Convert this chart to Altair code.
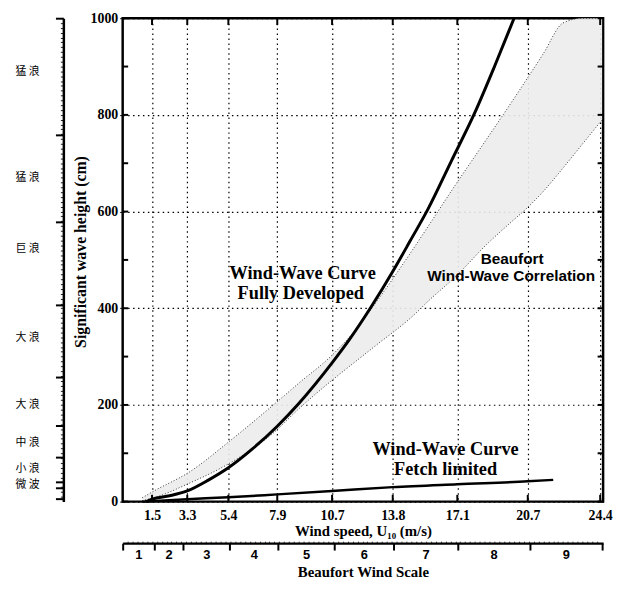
import altair as alt
import pandas as pd

# ---------------- data ----------------
XMAX = 24.55
speed_grid = [1.5, 3.3, 5.4, 7.9, 10.7, 13.8, 17.1, 20.7, 24.4]
height_labels = [0, 200, 400, 600, 800, 1000]
height_minor = [0, 100, 200, 300, 400, 500, 600, 700, 800, 900, 1000]

# Beaufort wind-wave correlation band
band_speed = [1.0, 1.6, 3.4, 5.4, 7.7, 9.0, 10.7, 12.0, 13.0, 14.8, 15.7, 17.0, 18.6, 19.9, 20.6, 21.5, 22.5, 23.5, 24.5]
band_upper = [8, 22, 61, 123, 200, 245, 303, 360, 415, 520, 575, 655, 750, 828, 871, 927, 990, 1000, 1000]
band_lower = [2, 8, 38, 78, 142, 192, 251, 293, 325, 383, 418, 465, 532, 580, 605, 642, 690, 740, 790]

# Fully developed curve
fd_speed = [1.2, 1.5, 2.4, 3.3, 4.4, 5.4, 6.6, 7.9, 9.0, 10.7, 11.6, 12.7, 13.8, 14.7, 15.6, 16.8, 18.0, 19.0, 20.0]
fd_height = [0, 5, 12, 22, 45, 70, 108, 156, 203, 287, 336, 403, 476, 540, 605, 705, 805, 900, 1000]

# Fetch limited curve
fetch_speed = [1.0, 3.3, 5.4, 7.9, 10.7, 13.8, 17.1, 20.7, 22.0]
fetch_height = [0, 5, 9, 15, 22, 30, 36, 42, 45]

# Sea state (left scale)
sea_bounds = [6, 29, 41, 92, 157, 258, 407, 579, 759, 1000]
sea_label_pos = [35, 68, 123, 200, 339, 523, 671, 890]
sea_label_text = ["微 波", "小 浪", "中  浪", "大 浪", "大 浪", "巨  浪", "猛 浪", "猛 浪"]
sea_minor = list(range(10, 1000, 10))

# Beaufort wind scale (bottom scale)
bft_bounds = [0.0, 1.6, 3.1, 5.45, 7.95, 10.8, 13.85, 17.1, 20.8, 24.5]
bft_labels = ["1", "2", "3", "4", "5", "6", "7", "8", "9"]
bft_minor = [round(0.25 * i, 2) for i in range(1, 98)]

# annotations
ann_text = ["Wind-Wave Curve", "Fully Developed", "Wind-Wave Curve", "Fetch limited"]
ann_x = [9.2, 9.1, 16.5, 16.5]
ann_y = [473, 432, 108, 67]
ann2_text = ["Beaufort", "Wind-Wave  Correlation"]
ann2_x = [19.9, 19.85]
ann2_y = [501, 466]

# ---------------- build ----------------
SERIF = "Liberation Serif"
SANS = "Liberation Sans"
W, H = 486, 489
BFT_OFFSET = 42

xs = alt.Scale(domain=[0, XMAX], nice=False, zero=False)
ys = alt.Scale(domain=[0, 1000], nice=False)

band_df = pd.DataFrame({"s": band_speed, "u": band_upper, "l": band_lower})
fd_df = pd.DataFrame({"s": fd_speed, "h": fd_height})
fetch_df = pd.DataFrame({"s": fetch_speed, "h": fetch_height})

bft_mid = [round((a + b) / 2, 3) for a, b in zip(bft_bounds[:-1], bft_bounds[1:])]

main_x_axis = alt.Axis(values=speed_grid, grid=True, gridDash=[1.5, 3.5], gridColor="black",
                       gridWidth=1.2, ticks=False, domain=False, labelPadding=7,
                       labelFont=SERIF, labelFontWeight="bold", labelFontSize=14, labelColor="black",
                       title="Wind speed, U₁₀ (m/s)", titleFont=SERIF, titleFontSize=15,
                       titleFontWeight="bold", titleColor="black", titlePadding=1,
                       labelExpr="datum.value")
main_y_axis = alt.Axis(values=height_labels, grid=True, gridDash=[1.5, 3.5], gridColor="black",
                       gridWidth=1.2, ticks=True, tickSize=3, tickColor="black", domain=False,
                       format="d", labelPadding=2, labelFont=SERIF, labelFontWeight="bold",
                       labelFontSize=14, labelColor="black", title="Significant wave height (cm)",
                       titleFont=SERIF, titleFontSize=16, titleFontWeight="bold", titleColor="black",
                       titlePadding=2, titleY=236)

band_area = alt.Chart(band_df).mark_area(color="#ececec", opacity=0.9, interpolate="monotone").encode(
    x=alt.X("s:Q", scale=xs, axis=main_x_axis),
    y=alt.Y("u:Q", scale=ys, axis=main_y_axis),
    y2="l:Q",
)
band_up = alt.Chart(band_df).mark_line(color="#333333", strokeDash=[1, 2], strokeWidth=1,
                                       interpolate="monotone").encode(
    x=alt.X("s:Q", scale=xs, axis=None), y=alt.Y("u:Q", scale=ys, axis=None))
band_lo = alt.Chart(band_df).mark_line(color="#333333", strokeDash=[1, 2], strokeWidth=1,
                                       interpolate="monotone").encode(
    x=alt.X("s:Q", scale=xs, axis=None), y=alt.Y("l:Q", scale=ys, axis=None))

fd_line = alt.Chart(fd_df).mark_line(color="black", strokeWidth=3, interpolate="monotone").encode(
    x=alt.X("s:Q", scale=xs, axis=None), y=alt.Y("h:Q", scale=ys, axis=None))
fetch_line = alt.Chart(fetch_df).mark_line(color="black", strokeWidth=2.5, interpolate="monotone").encode(
    x=alt.X("s:Q", scale=xs, axis=None), y=alt.Y("h:Q", scale=ys, axis=None))

# inward ticks on the frame
tick_rows = []
for v in height_minor:
    tick_rows.append({"x": 0, "x2": 0.28, "y": v, "y2": v})
    tick_rows.append({"x": XMAX - 0.28, "x2": XMAX, "y": v, "y2": v})
for v in speed_grid:
    tick_rows.append({"x": v, "x2": v, "y": 0, "y2": 14})
    tick_rows.append({"x": v, "x2": v, "y": 986, "y2": 1000})
ticks_df = pd.DataFrame(tick_rows)
frame_ticks = alt.Chart(ticks_df).mark_rule(color="black", strokeWidth=2).encode(
    x=alt.X("x:Q", scale=xs, axis=None), x2="x2:Q",
    y=alt.Y("y:Q", scale=ys, axis=None), y2="y2:Q")

ann_df = pd.DataFrame({"t": ann_text, "x": ann_x, "y": ann_y})
ann = alt.Chart(ann_df).mark_text(font=SERIF, fontSize=18.5, fontWeight="bold", color="black").encode(
    x=alt.X("x:Q", scale=xs, axis=None), y=alt.Y("y:Q", scale=ys, axis=None), text="t:N")
ann2_df = pd.DataFrame({"t": ann2_text, "x": ann2_x, "y": ann2_y})
ann2 = alt.Chart(ann2_df).mark_text(font=SANS, fontSize=15.5, fontWeight="bold", color="black").encode(
    x=alt.X("x:Q", scale=xs, axis=None), y=alt.Y("y:Q", scale=ys, axis=None), text="t:N")

# extra scales: sea-state (left) and Beaufort (bottom)
dummy = pd.DataFrame({"s": [band_speed[0]], "h": [band_lower[0]]})
sea_ticks_axis = alt.Axis(orient="left", offset=60, values=sea_bounds, labels=False, ticks=True,
                          tickSize=8, tickWidth=2, tickColor="black", domain=True, domainWidth=2.5,
                          domainColor="black", grid=False, title=None)
bft_ticks_axis = alt.Axis(orient="bottom", offset=BFT_OFFSET, values=bft_bounds, labels=False, ticks=True,
                          tickSize=7, tickWidth=2, tickColor="black", domain=True, domainWidth=2.5,
                          domainColor="black", grid=False, title=None)
scale_ticks = alt.Chart(dummy).mark_point(opacity=0).encode(
    x=alt.X("s:Q", scale=xs, axis=bft_ticks_axis),
    y=alt.Y("h:Q", scale=ys, axis=sea_ticks_axis))

# fine ruler ticks on both extra scales
sea_minor_axis = alt.Axis(orient="left", offset=60, values=sea_minor, labels=False, ticks=True,
                          tickSize=3, tickWidth=1, tickColor="#222222", domain=False, grid=False,
                          title=None)
bft_minor_axis = alt.Axis(orient="top", offset=-(H + BFT_OFFSET), values=bft_minor, labels=False,
                          ticks=True, tickSize=2, tickWidth=1, tickColor="#444444", domain=False,
                          grid=False, title=None)
scale_minor = alt.Chart(dummy).mark_point(opacity=0).encode(
    x=alt.X("s:Q", scale=xs, axis=bft_minor_axis),
    y=alt.Y("h:Q", scale=ys, axis=sea_minor_axis))

sea_expr = "[" + ",".join("'%s'" % t for t in sea_label_text) + "][indexof([" + \
    ",".join(str(v) for v in sea_label_pos) + "], datum.value)]"
bft_expr = "[" + ",".join("'%s'" % t for t in bft_labels) + "][indexof([" + \
    ",".join(str(v) for v in bft_mid) + "], datum.value)]"
sea_label_axis = alt.Axis(orient="left", offset=60, values=sea_label_pos, labelExpr=sea_expr,
                          ticks=False, domain=False, grid=False, labelPadding=49, labelAlign="left",
                          labelFont="Noto Sans CJK SC", labelFontSize=11, labelColor="black", title=None)
bft_label_axis = alt.Axis(orient="bottom", offset=BFT_OFFSET, values=bft_mid, labelExpr=bft_expr,
                          ticks=False, domain=False, grid=False, labelPadding=6,
                          labelFont=SANS, labelFontSize=13, labelFontWeight="bold", labelColor="black",
                          title="Beaufort Wind Scale", titleFont=SERIF, titleFontSize=15,
                          titleFontWeight="bold", titleColor="black", titlePadding=3)
scale_labels = alt.Chart(dummy).mark_point(opacity=0).encode(
    x=alt.X("s:Q", scale=xs, axis=bft_label_axis),
    y=alt.Y("h:Q", scale=ys, axis=sea_label_axis))

chart = alt.layer(
    band_area, band_up, band_lo, fd_line, fetch_line, frame_ticks, ann, ann2,
    scale_minor, scale_ticks, scale_labels
).resolve_axis(x="independent", y="independent").properties(
    width=W, height=H, padding={"left": 7, "top": 0, "right": 0, "bottom": 0}
).configure_view(stroke="black", strokeWidth=2.5)

chart.save("out.html", embed_options={"renderer": "svg", "actions": False})
